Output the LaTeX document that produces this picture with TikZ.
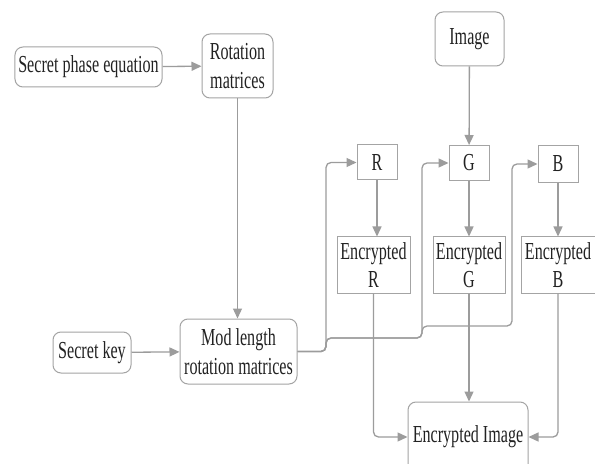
\documentclass[tikz,border=0pt]{standalone}
\usepackage{fontspec}
\setmainfont{Liberation Serif}[FakeStretch=0.66]
\usetikzlibrary{arrows.meta}
\definecolor{linegray}{HTML}{9C9C9C}
\definecolor{boxgray}{HTML}{A4A4A4}
\definecolor{inkgray}{HTML}{222222}
\tikzset{
  base/.style={draw=boxgray, line width=1bp, text=inkgray, align=center,
    inner sep=0pt, font=\fontsize{24.5}{28.5}\selectfont},
  roundbox/.style={base, rounded corners=8bp},
  squarebox/.style={base},
  flow/.style={draw=linegray, line width=1.3bp, rounded corners=5bp,
    -{Triangle[length=10bp, width=9bp]}},
}
\begin{document}
\begin{tikzpicture}[x=1bp, y=-1bp]
  \useasboundingbox[fill=white] (0,0) rectangle (595,464);

  % key schedule side
  \node[roundbox, minimum width=147bp, minimum height=40bp] (spe) at (88.5,67) {Secret phase equation};
  \node[roundbox, minimum width=71bp, minimum height=64bp] (rot) at (237.5,66) {Rotation\\matrices};
  \node[roundbox, minimum width=78bp, minimum height=41bp] (sk) at (92,352.5) {Secret key};
  \node[roundbox, minimum width=117bp, minimum height=65bp] (mod) at (238.5,351.5) {Mod length\\rotation matrices};

  % image channels
  \node[roundbox, minimum width=69bp, minimum height=54bp] (img) at (469.5,39) {Image};
  \node[squarebox, minimum width=40bp, minimum height=35bp] (R) at (377,162.5) {R};
  \node[squarebox, minimum width=40bp, minimum height=35bp] (G) at (469,163) {G};
  \node[squarebox, minimum width=40bp, minimum height=37bp] (B) at (558,164) {B};
  \node[squarebox, minimum width=73bp, minimum height=56bp] (eR) at (373.5,265) {Encrypted\\R};
  \node[squarebox, minimum width=72bp, minimum height=56bp] (eG) at (469,265) {Encrypted\\G};
  \node[squarebox, minimum width=74bp, minimum height=56bp] (eB) at (558,265) {Encrypted\\B};
  \node[roundbox, minimum width=120bp, minimum height=70bp] (eI) at (468,437) {Encrypted Image};

  % routing lanes for the key distribution
  \coordinate (lane1) at (326,0);
  \coordinate (lane2) at (422,0);
  \coordinate (lane3) at (512,0);
  \coordinate (lvG) at (0,338);
  \coordinate (lvB) at (0,326);

  % connectors
  \draw[flow] (spe) -- (rot);
  \draw[flow] (rot.south) -- (rot.south |- mod.north);
  \draw[flow] (sk) -- (mod);
  \draw[flow] (img) -- (G);

  \draw[flow] (mod.east) -- (lane1 |- mod.east) -- (lane1 |- R.west) -- (R.west);
  \draw[flow] (mod.east) -- (lane1 |- mod.east) -- (lane1 |- lvG) -- (lane2 |- lvG)
    -- (lane2 |- G.west) -- (G.west);
  \draw[flow] (mod.east) -- (lane1 |- mod.east) -- (lane1 |- lvG) -- (lane2 |- lvG)
    -- (lane2 |- lvB) -- (lane3 |- lvB) -- (lane3 |- B.west) -- (B.west);

  \draw[flow] (R) -- (R |- eR.north);
  \draw[flow] (G) -- (G |- eG.north);
  \draw[flow] (B) -- (B |- eB.north);

  \draw[flow] (eR.south) |- (eI.west);
  \draw[flow] (eG.south) -- (eG.south |- eI.north);
  \draw[flow] (eB.south) |- (eI.east);
\end{tikzpicture}
\end{document}
